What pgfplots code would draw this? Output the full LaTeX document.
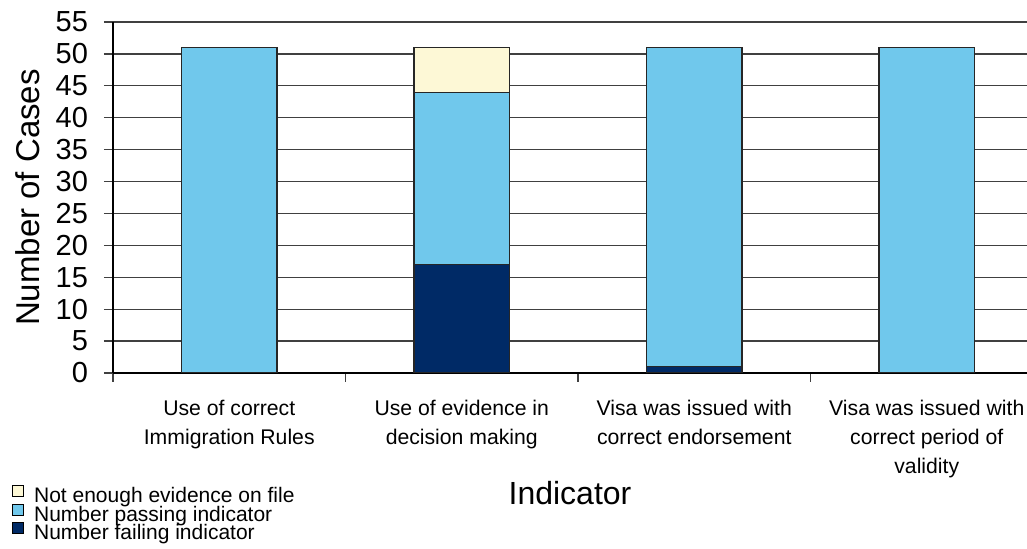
\documentclass[border=0pt]{standalone}
\usepackage{fontspec}
\setmainfont{Liberation Sans}
\usepackage{pgfplots}
\pgfplotsset{compat=1.18}
\definecolor{failblue}{RGB}{0,42,102}
\definecolor{passblue}{RGB}{112,200,236}
\definecolor{noevid}{RGB}{253,248,214}
\begin{document}
\begin{tikzpicture}
\begin{axis}[
    name=ax,
    ybar stacked,
    scale only axis,
    width=457pt, height=175.5pt,
    xmin=-0.5, xmax=3.431,
    ymin=0, ymax=55,
    ytick={0,5,...,55},
    bar width=0.41,
    axis x line*=bottom, axis y line*=left,
    axis line style={black, line width=0.7pt, -},
    ymajorgrids,
    grid style={black!75, line width=0.6pt},
    tick align=outside,
    major tick length=4.5pt,
    tick style={black!75, line width=0.6pt},
    /pgf/number format/assume math mode=true,
    yticklabel style={font=\fontsize{14.5}{14.5}\selectfont, xshift=-4.5pt},
    xtick={-0.5,0.5,1.5,2.5},
    xticklabels={},
    extra x ticks={0,1,2,3},
    extra x tick labels={{Use of correct\\Immigration Rules},{Use of evidence in\\decision making},{Visa was issued with\\correct endorsement},{Visa was issued with\\correct period of\\validity}},
    extra x tick style={major tick length=0pt, xticklabel style={align=center, font=\fontsize{10.6}{14.5}\selectfont, yshift=-10pt}},
    ylabel={Number of Cases},
    ylabel style={at={(axis description cs:-0.093,0.5)}, anchor=center, font=\fontsize{16.5}{16.5}\selectfont},
    xlabel={Indicator},
    xlabel style={at={(axis description cs:0.5,-0.342)}, anchor=center, font=\fontsize{16}{16}\selectfont},
    reverse legend,
    legend cell align=left,
    legend style={at={(axis description cs:-0.111,-0.318)}, anchor=north west, draw=none, fill=none,
        font=\fontsize{10.5}{10.5}\selectfont, row sep=-1.6pt, inner sep=0pt,
        nodes={inner sep=0.5pt, text height=7.3pt, text depth=1.7pt}},
    legend image code/.code={\draw[#1, draw=black, line width=0.5pt] (0pt,0.2pt) rectangle (5.5pt,5.7pt); \path (10pt,0pt);},
]
\addplot[fill=failblue, draw=black!85, line width=0.7pt] coordinates {(0,0) (1,17) (2,1) (3,0)};
\addlegendentry{Number failing indicator}
\addplot[fill=passblue, draw=black!85, line width=0.7pt] coordinates {(0,51) (1,27) (2,50) (3,51)};
\addlegendentry{Number passing indicator}
\addplot[fill=noevid, draw=black!85, line width=0.7pt] coordinates {(0,0) (1,7) (2,0) (3,0)};
\addlegendentry{Not enough evidence on file}
\end{axis}
\pgfresetboundingbox
\path[use as bounding box] ([shift={(-56.5pt,-88pt)}]ax.south west) rectangle ([shift={(0pt,11pt)}]ax.north east);
\end{tikzpicture}
\end{document}
